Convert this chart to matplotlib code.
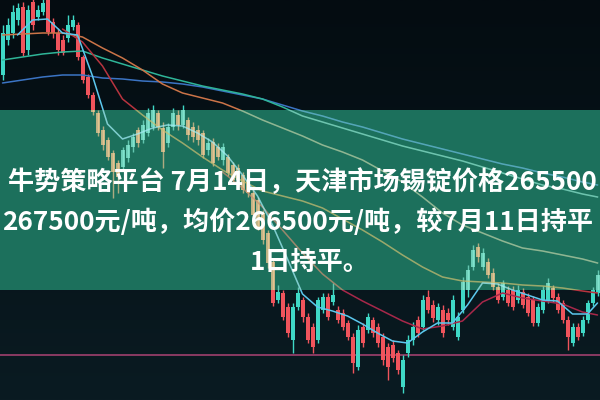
import numpy as np
import matplotlib
matplotlib.use('Agg')
import matplotlib.pyplot as plt

# ---------------- data (arbitrary price units) ----------------
opens = [325, 360, 367, 380, 393, 350, 398, 383, 388, 400,
         378, 367, 360, 362, 373, 375, 343, 323, 305, 287,
         270, 260, 247, 237, 233, 242, 253, 270, 260, 267,
         273, 287, 272, 257, 273, 285, 275, 280, 273, 270,
         267, 250, 258, 253, 240, 243, 235, 232, 225, 220,
         207, 200, 187, 167, 138, 100, 107, 93, 60, 93,
         100, 83, 73, 60, 90, 103, 98, 90, 87, 77,
         63, 33, 73, 70, 80, 73, 63, 53, 55, 47,
         13, 47, 60, 80, 73, 103, 95, 80, 90, 87,
         73, 63, 90, 110, 133, 153, 133, 138, 127, 113,
         103, 110, 110, 100, 108, 103, 100, 77, 90, 100,
         112, 103, 97, 80, 57, 73, 67, 80, 97, 107]
closes = [367, 375, 388, 392, 347, 390, 375, 390, 397, 368,
          367, 350, 347, 375, 380, 343, 320, 305, 288, 267,
          255, 243, 228, 223, 250, 255, 263, 257, 275, 287,
          290, 273, 248, 273, 287, 275, 290, 265, 263, 260,
          245, 257, 237, 243, 253, 227, 220, 220, 210, 207,
          185, 173, 160, 137, 97, 108, 83, 67, 93, 107,
          83, 60, 53, 100, 103, 83, 105, 80, 73, 63,
          37, 70, 57, 83, 67, 57, 40, 33, 42, 30,
          40, 60, 73, 67, 100, 90, 82, 93, 67, 80,
          100, 83, 118, 130, 150, 143, 147, 125, 113, 100,
          117, 97, 93, 110, 95, 87, 77, 93, 110, 117,
          102, 90, 80, 63, 73, 63, 80, 97, 110, 125]
highs = [375, 382, 395, 397, 398, 395, 405, 395, 403, 405,
         382, 372, 365, 385, 385, 378, 345, 326, 308, 290,
         274, 263, 250, 240, 253, 260, 267, 273, 280, 292,
         295, 290, 278, 277, 292, 290, 295, 283, 278, 275,
         270, 262, 262, 257, 257, 246, 238, 236, 228, 224,
         210, 203, 190, 170, 142, 115, 110, 97, 97, 113,
         103, 87, 77, 103, 107, 107, 117, 94, 91, 80,
         67, 75, 77, 87, 83, 77, 67, 57, 60, 50,
         45, 65, 78, 84, 105, 110, 100, 97, 95, 92,
         105, 88, 123, 135, 155, 157, 152, 142, 132, 117,
         120, 114, 114, 115, 112, 107, 104, 97, 114, 122,
         115, 107, 100, 84, 77, 77, 84, 100, 113, 130]
lows = [320, 355, 362, 375, 344, 345, 370, 380, 385, 365,
        362, 345, 345, 358, 370, 340, 317, 302, 285, 264,
        250, 240, 202, 207, 230, 238, 248, 253, 257, 264,
        270, 270, 232, 253, 270, 270, 272, 260, 258, 255,
        242, 245, 234, 240, 235, 224, 216, 216, 207, 203,
        180, 170, 156, 132, 94, 97, 80, 63, 47, 90,
        78, 57, 47, 57, 87, 80, 95, 77, 70, 60,
        27, 30, 53, 67, 63, 53, 35, 20, 38, 26,
        7, 43, 55, 63, 70, 87, 78, 75, 63, 75,
        70, 60, 87, 103, 130, 138, 130, 122, 110, 97,
        100, 94, 90, 97, 92, 84, 74, 74, 87, 97,
        98, 87, 77, 50, 54, 60, 64, 77, 94, 104]

# moving-average lines, read at sample candles
ma_idx = list(range(0, 117, 4)) + [119]
ma_teal = [340, 343, 346, 348, 349, 342, 336, 330, 324, 319, 314, 310, 306, 301, 293,
           284, 278, 272, 266, 260, 254, 249, 244, 239, 233, 227, 221, 215, 211, 206, 203]
ma_blue = [317, 320, 323, 325, 325, 322, 321, 319, 318, 316, 313, 309, 305, 301, 295,
           289, 284, 278, 273, 267, 261, 256, 251, 246, 241, 236, 232, 227, 223, 218, 215]
ma_orange = [365, 366, 367, 367, 363, 352, 342, 330, 316, 307, 302, 297, 289, 280, 272,
             264, 255, 248, 240, 229, 218, 203, 187, 175, 167, 159, 152, 149, 145, 141, 137]
ma_red_idx = list(range(12, 117, 4)) + [119]
ma_red = [371, 358, 334, 301, 285, 270, 257, 243, 230, 219, 209, 204, 199, 192, 181,
          170, 158, 145, 133, 123, 119, 118, 117, 115, 114, 112, 109, 107]
ma_crimson_idx = list(range(44, 117, 4)) + [119]
ma_crimson = [228, 212, 193, 170, 147, 126, 110, 99, 89, 79, 71, 74, 79, 98, 107,
              102, 99, 96, 88, 85]
ma5_idx = list(range(3, 118, 3)) + [119]
ma5 = [365, 380, 381, 367, 365, 324, 276, 261, 266, 272, 275, 274, 267, 258, 244,
       225, 204, 175, 141, 106, 93, 89, 84, 76, 67, 59, 57, 68, 77, 77,
       95, 117, 116, 110, 105, 100, 99, 86, 86, 97]
support_level = 45

title_lines = ["牛势策略平台 7月14日，天津市场锡锭价格265500",
               "267500元/吨，均价266500元/吨，较7月11日持平",
               "1日持平。"]

# ---------------- drawing ----------------
BG = '#07151c'
UP = '#3fd8c6'
DOWN = '#f0545c'
UP_F = '#8ff2dc'
DOWN_F = '#ffcf96'

fig = plt.figure(figsize=(6, 4), dpi=100, facecolor=BG)
ax = fig.add_axes([0, 0, 1, 1])
ax.set_facecolor(BG)
n = len(opens)
idx = np.arange(n)
o = np.array(opens, float); c = np.array(closes, float)
h = np.array(highs, float); l = np.array(lows, float)
up = c >= o
body_bottom = np.minimum(o, c)
body_h = np.maximum(np.abs(c - o), 1.2)

ax.set_xlim(-0.5, n - 0.5)
ax.set_ylim(0, 400)
ax.axis('off')

grad = np.linspace(0, 1, 256).reshape(-1, 1)
ax.imshow(grad, extent=(-0.5, n - 0.5, 0, 400), aspect='auto',
          cmap=matplotlib.colors.LinearSegmentedColormap.from_list('bg', ['#0a1b22', '#040c11']),
          origin='lower', zorder=0)

ax.axhline(support_level, color='#8a3a62', lw=1.4, zorder=1.5)

lines = [
    (ma_idx, ma_blue, '#3b74c4', '#6ab8d8'),
    (ma_idx, ma_teal, '#2fb598', '#8fe0cc'),
    (ma_idx, ma_orange, '#cc7448', '#b8d0a8'),
    (ma_red_idx, ma_red, '#b8343f', '#c8c070'),
    (ma_crimson_idx, ma_crimson, '#a8284a', '#c89070'),
    (ma5_idx, ma5, '#5cc8ee', '#a6ecf6'),
]
for xi, yv, col, _ in lines:
    ax.plot(xi, yv, color=col, lw=1.1, zorder=3, solid_capstyle='round')

W = 0.8
cols = np.where(up, UP, DOWN)
ax.vlines(idx, l, h, colors=cols, lw=1.0, zorder=2)
ax.bar(idx, body_h, bottom=body_bottom, width=W, color=cols, lw=0, zorder=2.5)

band = ax.axhspan(110, 290, facecolor='#1f7b64', alpha=0.9, lw=0, zorder=5)

fcols = np.where(up, UP_F, DOWN_F)
vl = ax.vlines(idx, l, h, colors=fcols, lw=1.0, zorder=6, alpha=0.6)
vl.set_clip_path(band)
bars = ax.bar(idx, body_h, bottom=body_bottom, width=W, color=fcols, lw=0, zorder=6, alpha=0.68)
for p in bars.patches:
    p.set_clip_path(band)
for xi, yv, _, fcol in lines:
    ln, = ax.plot(xi, yv, color=fcol, lw=1.1, zorder=6, alpha=0.7)
    ln.set_clip_path(band)

fam = ['Noto Sans CJK SC', 'DejaVu Sans']
kw = dict(transform=ax.transAxes, color='white', fontsize=18.8, fontweight='bold',
          family=fam, va='center', ha='left', zorder=10, clip_on=True)
ax.text(8 / 600, 1 - 183 / 400, title_lines[0], **kw)
ax.text(2 / 600, 1 - 222 / 400, title_lines[1], **kw)
ax.text(250 / 600, 1 - 262 / 400, title_lines[2], **kw)

fig.savefig('out.png', dpi=100, facecolor=BG)
